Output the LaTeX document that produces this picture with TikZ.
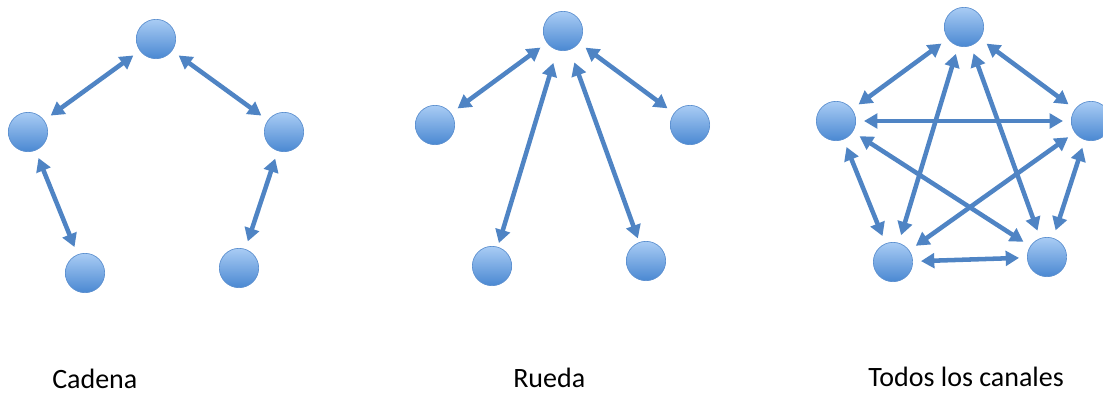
\documentclass[tikz,border=0pt]{standalone}
\usepackage{fontspec}
\setmainfont{Carlito}
\usetikzlibrary{arrows.meta}
\definecolor{linkblue}{HTML}{4F84C4}
\definecolor{dottop}{HTML}{A9CCF4}
\definecolor{dotbot}{HTML}{4A88D2}
\definecolor{dotrim}{HTML}{5B8FCF}
\tikzset{
  dot/.style={circle, inner sep=0pt, minimum size=29.5pt,
    top color=dottop, bottom color=dotbot, draw=dotrim, line width=0.5pt},
  link/.style={draw=linkblue, line width=3.4pt,
    {Triangle[length=10pt,width=11pt]}-{Triangle[length=10pt,width=11pt]},
    shorten <=6pt, shorten >=6pt},
  caption/.style={anchor=base west, inner sep=0pt, font=\fontsize{21}{25}\selectfont, text=black}
}
\begin{document}
\begin{tikzpicture}[x=0.75pt, y=-0.75pt]
\useasboundingbox (0,0) rectangle (1103,394);

% Cadena
\node[dot] (c1) at (156,39) {};
\node[dot] (c2) at (28,132) {};
\node[dot] (c3) at (284,132) {};
\node[dot] (c4) at (85,273) {};
\node[dot] (c5) at (239,268) {};
\draw[link] (c1) -- (c2);
\draw[link] (c1) -- (c3);
\draw[link] (c2) -- (c4);
\draw[link] (c3) -- (c5);
\node[caption] (lc) at (52,388) {Cadena};

% Rueda
\node[dot] (r1) at (563,31) {};
\node[dot] (r2) at (435,125) {};
\node[dot] (r3) at (690,125) {};
\node[dot] (r4) at (492,266) {};
\node[dot] (r5) at (646,261) {};
\draw[link] (r1) -- (r2);
\draw[link] (r1) -- (r3);
\draw[link, shorten <=10pt, shorten >=3pt] (r1) -- (r4);
\draw[link, shorten <=10pt, shorten >=3pt] (r1) -- (r5);
\node[caption] (lr) at (513,387) {Rueda};

% Todos los canales
\node[dot] (t1) at (964,27) {};
\node[dot] (t2) at (836,121) {};
\node[dot] (t3) at (1091,121) {};
\node[dot] (t4) at (893,262) {};
\node[dot] (t5) at (1047,257) {};
\foreach \a/\b in {t1/t2, t1/t3, t1/t4, t1/t5, t2/t3, t2/t4, t2/t5, t3/t4, t3/t5, t4/t5}
  \draw[link] (\a) -- (\b);
\node[caption] (lt) at (868,386) {Todos los canales};
\end{tikzpicture}
\end{document}
